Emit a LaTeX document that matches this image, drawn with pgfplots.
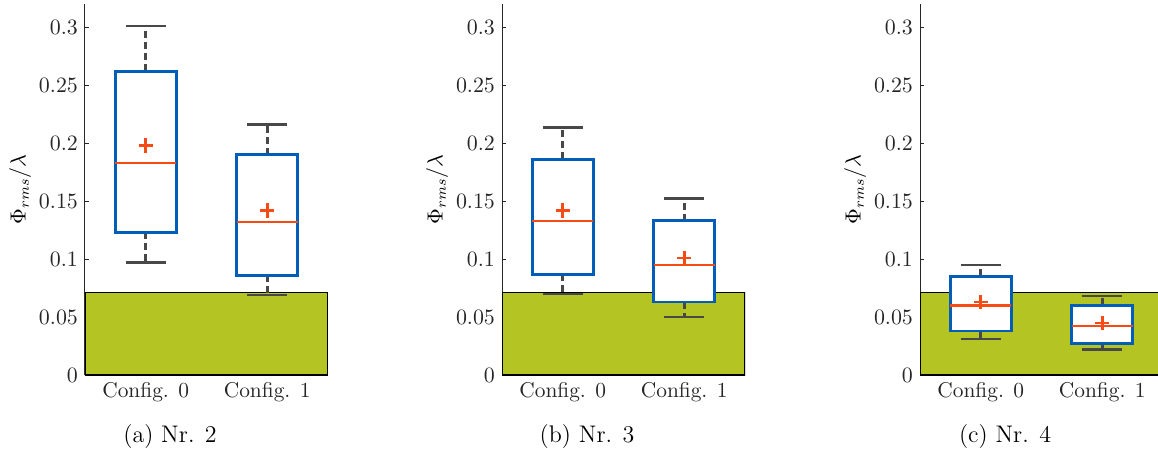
\documentclass[border=0pt]{standalone}
\usepackage{pgfplots}
\pgfplotsset{compat=1.18}
\usepgfplotslibrary{statistics}

\definecolor{limitgreen}{RGB}{180,197,35}
\definecolor{boxblue}{RGB}{0,94,184}
\definecolor{medorange}{RGB}{247,75,22}
\definecolor{whiskgray}{RGB}{72,72,72}
\definecolor{axgray}{RGB}{38,38,38}

\pgfplotsset{
  panel/.style={
    width=121.5pt, height=185.5pt, scale only axis,
    xmin=0.5, xmax=2.5, ymin=0, ymax=0.32,
    axis y line*=left, axis x line*=bottom,
    axis line style={axgray, line width=0.5pt},
    xtick={1,2}, xticklabels={Config. 0, Config. 1},
    xtick style={draw=none},
    ytick={0,0.05,0.1,0.15,0.2,0.25,0.3},
    scaled y ticks=false,
    yticklabel style={/pgf/number format/fixed, /pgf/number format/precision=2},
    tick align=inside, major tick length=2pt,
    ytick style={axgray},
    ticklabel style={text=axgray, font=\fontsize{10.7}{13}\selectfont},
    ylabel={$\Phi_{rms}/\lambda$},
    ylabel style={at={(axis description cs:-0.267,0.5)}, anchor=center,
      font=\fontsize{10.7}{13}\selectfont},
    xlabel style={at={(axis description cs:0.35,-0.167)}, anchor=center, font=\large},
    boxplot/draw direction=y,
    boxplot/box extend=0.5,
    boxplot/whisker extend=0.33,
    boxplot/every box/.style={draw=boxblue, fill=white, line width=1.4pt},
    boxplot/every median/.style={draw=medorange, line width=1.1pt},
    boxplot/draw/lower whisker/.code={%
      \draw[whiskgray, line width=1.3pt, dash pattern=on 3.5pt off 2pt]
        (boxplot box cs:\pgfplotsboxplotvalue{lower quartile},0.5) --
        (boxplot whisker cs:\pgfplotsboxplotvalue{lower whisker},0.5);
      \draw[whiskgray, line width=1.3pt]
        (boxplot whisker cs:\pgfplotsboxplotvalue{lower whisker},0) --
        (boxplot whisker cs:\pgfplotsboxplotvalue{lower whisker},1);
    },
    boxplot/draw/upper whisker/.code={%
      \draw[whiskgray, line width=1.3pt, dash pattern=on 3.5pt off 2pt]
        (boxplot box cs:\pgfplotsboxplotvalue{upper quartile},0.5) --
        (boxplot whisker cs:\pgfplotsboxplotvalue{upper whisker},0.5);
      \draw[whiskgray, line width=1.3pt]
        (boxplot whisker cs:\pgfplotsboxplotvalue{upper whisker},0) --
        (boxplot whisker cs:\pgfplotsboxplotvalue{upper whisker},1);
    },
  },
  limit/.style={mark=none, fill=limitgreen, draw=black, line width=0.6pt},
  means/.style={only marks, mark=+, mark size=3.6pt, color=medorange,
    mark options={line width=1.3pt}},
}

\begin{document}
\begin{tikzpicture}
% (a) Nr. 2
\begin{axis}[panel, at={(0,0)}, anchor=south west, xlabel={(a) Nr. 2}]
  \addplot[limit] coordinates {(0.5,0) (0.5,0.071) (2.5,0.071) (2.5,0) (0.5,0)};
  \addplot[mark=none, boxplot prepared={draw position=1,
    lower whisker=0.097, lower quartile=0.123, median=0.183,
    upper quartile=0.262, upper whisker=0.301}] coordinates {};
  \addplot[mark=none, boxplot prepared={draw position=2,
    lower whisker=0.069, lower quartile=0.086, median=0.132,
    upper quartile=0.190, upper whisker=0.216}] coordinates {};
  \addplot[means] coordinates {(1,0.198) (2,0.142)};
\end{axis}
% (b) Nr. 3
\begin{axis}[panel, at={(208.5pt,0)}, anchor=south west, xlabel={(b) Nr. 3}]
  \addplot[limit] coordinates {(0.5,0) (0.5,0.071) (2.5,0.071) (2.5,0) (0.5,0)};
  \addplot[mark=none, boxplot prepared={draw position=1,
    lower whisker=0.070, lower quartile=0.087, median=0.133,
    upper quartile=0.186, upper whisker=0.2135}] coordinates {};
  \addplot[mark=none, boxplot prepared={draw position=2,
    lower whisker=0.050, lower quartile=0.063, median=0.095,
    upper quartile=0.133, upper whisker=0.152}] coordinates {};
  \addplot[means] coordinates {(1,0.142) (2,0.101)};
\end{axis}
% (c) Nr. 4
\begin{axis}[panel, at={(417.5pt,0)}, anchor=south west, xlabel={(c) Nr. 4}]
  \addplot[limit] coordinates {(0.5,0) (0.5,0.071) (2.5,0.071) (2.5,0) (0.5,0)};
  \addplot[mark=none, boxplot prepared={draw position=1,
    lower whisker=0.031, lower quartile=0.038, median=0.060,
    upper quartile=0.085, upper whisker=0.095}] coordinates {};
  \addplot[mark=none, boxplot prepared={draw position=2,
    lower whisker=0.022, lower quartile=0.027, median=0.042,
    upper quartile=0.060, upper whisker=0.068}] coordinates {};
  \addplot[means] coordinates {(1,0.063) (2,0.045)};
\end{axis}
\pgfresetboundingbox
\useasboundingbox (-42.5pt,-38pt) rectangle (536.5pt,187.5pt);
\end{tikzpicture}
\end{document}
